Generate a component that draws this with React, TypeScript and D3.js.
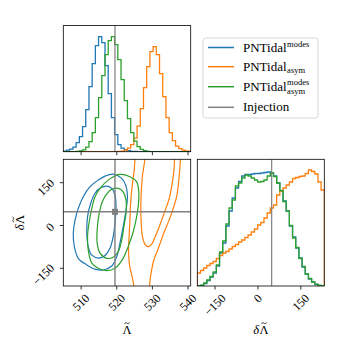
import React, { useLayoutEffect, useRef, useState } from "react";
import * as d3 from "d3";

// ---------- data ----------
const LAMBDA_DOMAIN = [505, 540.75];
const DLAMBDA_DOMAIN = [-212, 232];
const LAMBDA_TICKS = [510, 520, 530, 540];
const DLAMBDA_TICKS = [-150, 0, 150];
const INJ_LAMBDA = 519.5;
const INJ_DLAMBDA = 48;

const SERIES_COLORS = ["#1f77b4", "#ff7f0e", "#2ca02c"];
const INJ_COLOR = "#808080";

// 1D marginal of Lambda-tilde
const LAMBDA_BIN_START = 505;
const LAMBDA_BIN_WIDTH = 0.9;
const HIST_LAMBDA_MODES = [0.5, 1.5, 2.5, 4.5, 9, 15, 25, 42, 65, 88, 106, 115, 109, 86, 58, 34, 17, 7, 3.5, 2, 1, 0.4, 0.2, 0, 0, 0, 0, 0, 0, 0, 0, 0, 0, 0, 0, 0, 0, 0, 0, 0];
const HIST_LAMBDA_ASYM = [0, 0, 0, 0, 0, 0, 0, 0, 0, 0, 0, 0, 0, 0, 0, 0, 0.1, 0.3, 0.6, 1.5, 3.5, 7, 13.5, 25.5, 43, 64, 85, 100, 105, 97, 78, 55, 34, 19, 11, 5.5, 3, 1.5, 0.6, 0.3];
const HIST_LAMBDA_MODES_ASYM = [0, 0, 0, 0, 0.2, 0.7, 1.8, 4.5, 10, 19, 34, 54, 76, 97, 111, 115, 107, 92, 72, 51, 33, 19, 10.5, 5, 2.3, 1, 0.4, 0.1, 0, 0, 0, 0, 0, 0, 0, 0, 0, 0, 0, 0];

// 1D marginal of delta-Lambda-tilde
const DL_BIN_START = -212;
const DL_BIN_WIDTH = 11.1;
const HIST_DL_MODES = [0, 0.5, 2.5, 5.5, 9, 13, 20, 33, 43, 60, 75, 88, 98, 104.5, 110, 111.5, 111.5, 112, 112.5, 112.5, 113, 113.5, 114, 113, 110, 103, 95, 85, 75, 60, 49, 38, 28, 19, 12, 7, 4, 1.5, 0.5, 0];
const HIST_DL_ASYM = [13, 15.5, 18, 20.5, 22.5, 24.5, 27.5, 30.5, 33, 34.5, 37, 39.5, 41.5, 44, 46, 48.5, 51, 54, 57, 61, 63.5, 68, 73, 78, 81, 91, 95, 98, 101, 104, 107.5, 108.5, 109.5, 110, 112.5, 116, 114.5, 112, 104, 96];
const HIST_DL_MODES_ASYM = [0, 0.8, 3, 6, 9.5, 14, 21, 34, 45, 62, 78, 86, 100, 103, 108, 111, 110, 108, 106, 104, 104.5, 106, 110, 113, 109.5, 103, 95.5, 84.5, 75, 60.5, 48, 38.5, 27.5, 19.5, 12, 7.5, 4, 1.8, 0.6, 0];

// 2D credible contours (Lambda-tilde, delta-Lambda-tilde)
const CONTOUR_MODES_OUTER = [[519.0, 180], [521.4, 165], [522.6, 138], [523.0, 101], [522.6, 54], [521.8, -4], [520.9, -62], [520.0, -109], [518.6, -142], [516.2, -156], [513.9, -153], [511.6, -138], [509.2, -115], [508.1, -74], [507.8, -27], [508.3, 19], [509.2, 60], [510.6, 101], [512.5, 136], [514.8, 159], [516.7, 173]];
const CONTOUR_MODES_INNER = [[517.2, 138], [518.6, 130], [519.5, 107], [519.8, 66], [519.5, 8], [519.0, -39], [518.1, -80], [516.7, -105], [515.0, -114], [513.0, -104], [512.0, -74], [511.6, -27], [511.8, 31], [512.7, 78], [513.9, 113], [515.5, 132]];
const CONTOUR_MODES_ASYM_OUTER = [[520.9, 179], [523.7, 171], [525.6, 153], [526.2, 113], [526.0, 66], [525.4, 19], [524.5, -27], [523.2, -74], [521.8, -115], [519.5, -150], [517.2, -158], [514.8, -150], [513.0, -132], [512.0, -86], [511.8, -39], [512.2, 8], [513.0, 60], [513.9, 101], [515.3, 130], [517.6, 159]];
const CONTOUR_MODES_ASYM_INNER = [[520.4, 130], [521.8, 118], [522.6, 89], [522.6, 43], [522.0, -4], [521.4, -51], [520.4, -92], [519.0, -111], [517.2, -115], [515.3, -97], [514.5, -62], [514.5, -16], [515.0, 37], [515.8, 78], [517.0, 107], [518.6, 127]];
const CONTOUR_ASYM_INNER = [[528.0, 260], [527.9, 232], [527.2, 173], [526.8, 96], [526.8, 26], [527.2, -37], [527.9, -65], [528.8, -74], [529.8, -65], [531.0, -33], [532.1, 2], [533.1, 37], [534.7, 93], [535.6, 151], [536.1, 201], [536.2, 232], [536.3, 260]];
const CONTOUR_ASYM_OUTER_LEFT = [[525.2, 260], [525.1, 232], [524.9, 194], [524.3, 136], [523.9, 78], [523.7, 19], [523.5, -27], [523.3, -86], [523.6, -140], [524.4, -185], [524.8, -212], [525.0, -240]];
const CONTOUR_ASYM_OUTER_RIGHT = [[538.1, 260], [537.9, 232], [537.5, 171], [536.8, 101], [535.1, 33], [533.0, -33], [531.5, -86], [530.4, -121], [529.6, -170], [529.2, -212], [529.1, -240]];

// ---------- layout ----------
const FONT = "'Liberation Serif', 'DejaVu Serif', serif";
const LX0 = 63.3, LX1 = 190.7;
const RX0 = 197.3, RX1 = 324.3;
const TY0 = 25.6, TY1 = 151.7;
const BY0 = 159.3, BY1 = 286;
const TICK_FS = 12;
const TICK_LEN = 3.5;
const LABEL_FS = 12.5;

function textWidth(label: string, fs: number) {
  let w = 0;
  for (const ch of label) w += ch === "\u2212" ? 0.564 : 0.5;
  return w * fs;
}

function fmt(v: number) {
  return v < 0 ? "\u2212" + Math.abs(v) : String(v);
}

function stepPath(start: number, width: number, vals: number[], xs: any, ys: any) {
  const pts: [number, number][] = [[start, 0]];
  vals.forEach((v, i) => {
    pts.push([start + i * width, v]);
    pts.push([start + (i + 1) * width, v]);
  });
  pts.push([start + vals.length * width, 0]);
  return d3.line<[number, number]>().x((d) => xs(d[0])).y((d) => ys(d[1]))(pts) || "";
}

// Lambda with tilde (optionally preceded by italic delta), centred at (0,0) baseline
function LambdaLabel({ delta }: { delta: boolean }) {
  const lw = 0.72 * LABEL_FS;
  const dw = delta ? 0.5 * LABEL_FS : 0;
  const start = -(lw + dw) / 2;
  const lc = start + dw + lw / 2;
  return (
    <g fontSize={LABEL_FS}>
      {delta && (
        <text x={start} y={0} fontStyle="italic">δ</text>
      )}
      <text x={lc} y={0} textAnchor="middle">Λ</text>
      <path
        d={`M${lc - 2.6},-9.4 C${lc - 1.7},-11.2 ${lc - 0.7},-10.9 ${lc},-10.3 S${lc + 1.7},-9.3 ${lc + 2.6},-11.1`}
        fill="none"
        stroke="#000"
        strokeWidth={0.75}
      />
    </g>
  );
}

export default function App() {
  const measRef = useRef<SVGTSpanElement>(null);
  const [pw, setPw] = useState(44);
  useLayoutEffect(() => {
    if (measRef.current) setPw(measRef.current.getComputedTextLength());
  }, []);

  const xL = d3.scaleLinear().domain(LAMBDA_DOMAIN).range([LX0, LX1]);
  const yD = d3.scaleLinear().domain(DLAMBDA_DOMAIN).range([BY1, BY0]);
  const xD = d3.scaleLinear().domain(DLAMBDA_DOMAIN).range([RX0, RX1]);
  const yHT = d3.scaleLinear().domain([0, 126.1]).range([TY1, TY0]);
  const yHB = d3.scaleLinear().domain([0, 126.7]).range([BY1, BY0]);

  const histL = [HIST_LAMBDA_MODES, HIST_LAMBDA_ASYM, HIST_LAMBDA_MODES_ASYM];
  const histD = [HIST_DL_MODES, HIST_DL_ASYM, HIST_DL_MODES_ASYM];

  const closed = d3.line<number[]>().x((d) => xL(d[0])).y((d) => yD(d[1])).curve(d3.curveCatmullRomClosed.alpha(0.5));
  const open = d3.line<number[]>().x((d) => xL(d[0])).y((d) => yD(d[1])).curve(d3.curveCatmullRom.alpha(0.5));

  const h = 7.9;
  const off = h / 2 / Math.SQRT2;

  const xTickLabels = (ticks: number[], scale: any, topY: number) =>
    ticks.map((t) => {
      const lab = fmt(t);
      const w = textWidth(lab, TICK_FS);
      const half = (w + h) / Math.SQRT2 / 2;
      const ax = scale(t) + off;
      const ay = topY + half + off;
      return (
        <text key={"xl" + t + "_" + ax} x={ax} y={ay} textAnchor="middle" fontSize={TICK_FS} transform={`rotate(-45 ${ax} ${ay})`}>
          {lab}
        </text>
      );
    });

  const yTickLabels = DLAMBDA_TICKS.map((t) => {
    const lab = fmt(t);
    const w = textWidth(lab, TICK_FS);
    const half = (w + h) / Math.SQRT2 / 2;
    const ax = 55 - half + off;
    const ay = yD(t) + 0.26 * w + off;
    return (
      <text key={"yl" + t} x={ax} y={ay} textAnchor="middle" fontSize={TICK_FS} transform={`rotate(-45 ${ax} ${ay})`}>
        {lab}
      </text>
    );
  });

  const legendY = [47.5, 66.7, 86.7, 107.3];
  const legX0 = 208, legX1 = 234, legTX = 243;

  return (
    <svg width={350} height={350} style={{ position: "absolute", left: 0, top: 0, background: "#fff" }} fontFamily={FONT}>
      <defs>
        <clipPath id="cTL"><rect x={LX0} y={TY0} width={LX1 - LX0} height={TY1 - TY0} /></clipPath>
        <clipPath id="cBL"><rect x={LX0} y={BY0} width={LX1 - LX0} height={BY1 - BY0} /></clipPath>
        <clipPath id="cBR"><rect x={RX0} y={BY0} width={RX1 - RX0} height={BY1 - BY0} /></clipPath>
      </defs>
      <rect x={0} y={0} width={350} height={350} fill="#fff" />

      {/* top-left: Lambda marginal */}
      <g clipPath="url(#cTL)">
        {histL.map((vals, i) => (
          <path key={"hl" + i} d={stepPath(LAMBDA_BIN_START, LAMBDA_BIN_WIDTH, vals, xL, yHT)} fill="none" stroke={SERIES_COLORS[i]} strokeWidth={1.3} />
        ))}
        <line x1={xL(INJ_LAMBDA)} x2={xL(INJ_LAMBDA)} y1={TY0} y2={TY1} stroke={INJ_COLOR} strokeWidth={1.2} />
      </g>
      <rect x={LX0} y={TY0} width={LX1 - LX0} height={TY1 - TY0} fill="none" stroke="#000" strokeWidth={0.8} />
      {LAMBDA_TICKS.map((t) => (
        <line key={"tt" + t} x1={xL(t)} x2={xL(t)} y1={TY1} y2={TY1 + TICK_LEN} stroke="#000" strokeWidth={0.8} />
      ))}

      {/* bottom-left: 2D contours */}
      <g clipPath="url(#cBL)">
        <path d={closed(CONTOUR_MODES_OUTER) || ""} fill="none" stroke={SERIES_COLORS[0]} strokeWidth={1.2} />
        <path d={closed(CONTOUR_MODES_INNER) || ""} fill="none" stroke={SERIES_COLORS[0]} strokeWidth={1.2} />
        <path d={open(CONTOUR_ASYM_INNER) || ""} fill="none" stroke={SERIES_COLORS[1]} strokeWidth={1.2} />
        <path d={open(CONTOUR_ASYM_OUTER_LEFT) || ""} fill="none" stroke={SERIES_COLORS[1]} strokeWidth={1.2} />
        <path d={open(CONTOUR_ASYM_OUTER_RIGHT) || ""} fill="none" stroke={SERIES_COLORS[1]} strokeWidth={1.2} />
        <path d={closed(CONTOUR_MODES_ASYM_OUTER) || ""} fill="none" stroke={SERIES_COLORS[2]} strokeWidth={1.2} />
        <path d={closed(CONTOUR_MODES_ASYM_INNER) || ""} fill="none" stroke={SERIES_COLORS[2]} strokeWidth={1.2} />
        <line x1={xL(INJ_LAMBDA)} x2={xL(INJ_LAMBDA)} y1={BY0} y2={BY1} stroke={INJ_COLOR} strokeWidth={1.4} />
        <line x1={LX0} x2={LX1} y1={yD(INJ_DLAMBDA)} y2={yD(INJ_DLAMBDA)} stroke={INJ_COLOR} strokeWidth={1.4} />
        <rect x={xL(INJ_LAMBDA) - 3} y={yD(INJ_DLAMBDA) - 3} width={6} height={6} fill={INJ_COLOR} />
      </g>
      <rect x={LX0} y={BY0} width={LX1 - LX0} height={BY1 - BY0} fill="none" stroke="#000" strokeWidth={0.8} />
      {LAMBDA_TICKS.map((t) => (
        <line key={"bt" + t} x1={xL(t)} x2={xL(t)} y1={BY1} y2={BY1 + TICK_LEN} stroke="#000" strokeWidth={0.8} />
      ))}
      {DLAMBDA_TICKS.map((t) => (
        <line key={"bty" + t} x1={LX0 - TICK_LEN} x2={LX0} y1={yD(t)} y2={yD(t)} stroke="#000" strokeWidth={0.8} />
      ))}
      {xTickLabels(LAMBDA_TICKS, xL, 293.3)}
      {yTickLabels}

      {/* bottom-right: delta Lambda marginal */}
      <g clipPath="url(#cBR)">
        {histD.map((vals, i) => (
          <path key={"hd" + i} d={stepPath(DL_BIN_START, DL_BIN_WIDTH, vals, xD, yHB)} fill="none" stroke={SERIES_COLORS[i]} strokeWidth={1.3} />
        ))}
        <line x1={xD(INJ_DLAMBDA)} x2={xD(INJ_DLAMBDA)} y1={BY0} y2={BY1} stroke={INJ_COLOR} strokeWidth={1.2} />
      </g>
      <rect x={RX0} y={BY0} width={RX1 - RX0} height={BY1 - BY0} fill="none" stroke="#000" strokeWidth={0.8} />
      {DLAMBDA_TICKS.map((t) => (
        <line key={"rt" + t} x1={xD(t)} x2={xD(t)} y1={BY1} y2={BY1 + TICK_LEN} stroke="#000" strokeWidth={0.8} />
      ))}
      {xTickLabels(DLAMBDA_TICKS, xD, 293.3)}

      {/* axis labels */}
      <g transform={`translate(${(LX0 + LX1) / 2},333.5)`}>
        <LambdaLabel delta={false} />
      </g>
      <g transform={`translate(${(RX0 + RX1) / 2},333.5)`}>
        <LambdaLabel delta={true} />
      </g>
      <g transform={`translate(23.5,${(BY0 + BY1) / 2}) rotate(-90)`}>
        <LambdaLabel delta={true} />
      </g>

      {/* legend */}
      <rect x={203} y={38} width={115} height={80} rx={2.5} fill="#fff" stroke="#cccccc" strokeWidth={0.8} />
      {[SERIES_COLORS[0], SERIES_COLORS[1], SERIES_COLORS[2], INJ_COLOR].map((c, i) => (
        <line key={"lg" + i} x1={legX0} x2={legX1} y1={legendY[i]} y2={legendY[i]} stroke={c} strokeWidth={1.5} />
      ))}
      <text x={legTX} y={legendY[0] + 4} fontSize={13}><tspan ref={measRef}>PNTidal</tspan></text>
      <text x={legTX + pw + 0.5} y={legendY[0] - 0.5} fontSize={8.5}>modes</text>
      <text x={legTX} y={legendY[1] + 4} fontSize={13}>PNTidal</text>
      <text x={legTX + pw + 0.5} y={legendY[1] + 6.3} fontSize={8.5}>asym</text>
      <text x={legTX} y={legendY[2] + 4.5} fontSize={13}>PNTidal</text>
      <text x={legTX + pw + 0.5} y={legendY[2] - 1.5} fontSize={8.5}>modes</text>
      <text x={legTX + pw + 0.5} y={legendY[2] + 7.5} fontSize={8.5}>asym</text>
      <text x={legTX} y={legendY[3] + 3.5} fontSize={13}>Injection</text>
    </svg>
  );
}
